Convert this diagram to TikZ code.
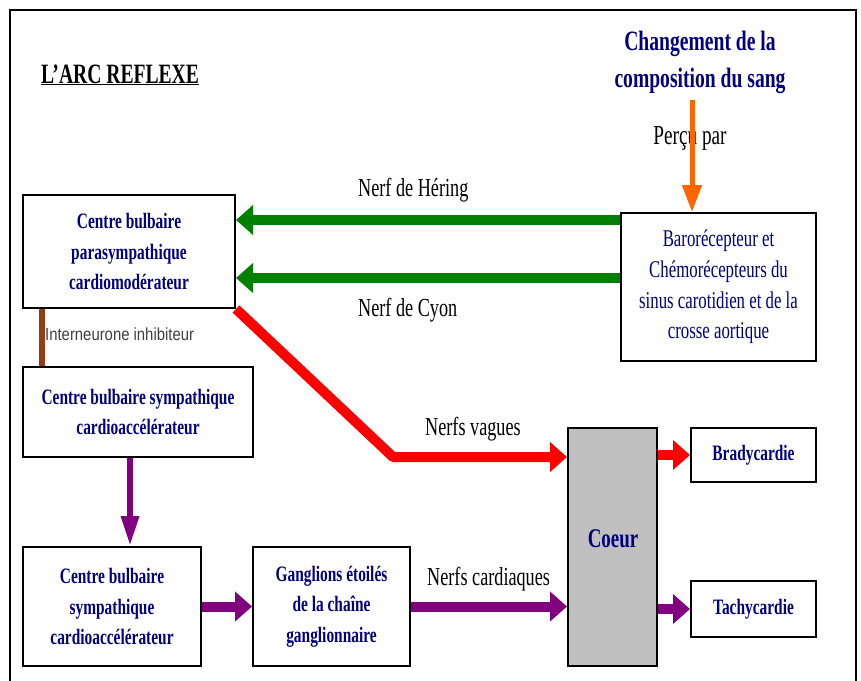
\documentclass[tikz,border=0pt]{standalone}
\usepackage{fontspec}
\setmainfont{Liberation Serif}[FakeStretch=0.7]
\newfontfamily\labsans{Liberation Sans}[FakeStretch=0.85]
\usetikzlibrary{arrows.meta}
\definecolor{navyc}{RGB}{0,0,128}
\definecolor{grn}{RGB}{0,128,0}
\definecolor{org}{RGB}{255,102,0}
\definecolor{purp}{RGB}{128,0,128}
\definecolor{brn}{RGB}{150,60,20}
\definecolor{heartgray}{RGB}{192,192,192}
\definecolor{redc}{RGB}{255,0,0}
\begin{document}
\begin{tikzpicture}[x=1pt,y=-1pt,
  box/.style={draw=black, line width=2pt, fill=white, inner sep=0pt, align=center,
    text=navyc, font=\bfseries\fontsize{22}{30.5}\selectfont},
  lab/.style={inner sep=0pt, font=\fontsize{26}{28}\selectfont},
  fat/.style={line width=10pt, -{Triangle[length=17pt,width=29pt]}},
  thinv/.style={line width=6pt, -{Triangle[length=30pt,width=17pt]}},
  orangearrow/.style={line width=5pt, draw=org, -{Triangle[length=27pt,width=19pt]}}
]
\useasboundingbox (0,0) rectangle (861,680);
\draw[line width=2.5pt] (10,684) -- (10,10) -- (856,10) -- (856,684);

% title
\node[anchor=base west, inner sep=0pt, font=\bfseries\fontsize{28}{30}\selectfont] (title) at (41,83) {\underline{L'ARC REFLEXE}};
\node[inner sep=0pt, align=center, text=navyc, font=\bfseries\fontsize{28}{37}\selectfont] (chg) at (700,62) {Changement de la\\composition du sang};

% boxes
\node[box, minimum width=212pt, minimum height=113pt] (A) at (129,251.5) {Centre bulbaire\\parasympathique\\cardiomodérateur};
\node[box, minimum width=230pt, minimum height=90pt] (B) at (138,412) {Centre bulbaire sympathique\\cardioaccélérateur};
\node[box, minimum width=178pt, minimum height=119pt] (C) at (112,606.5) {Centre bulbaire\\sympathique\\cardioaccélérateur};
\node[box, minimum width=157pt, minimum height=119pt] (D) at (331.5,606.5) {Ganglions étoilés\\de la chaîne\\ganglionnaire};
\node[box, fill=heartgray, minimum width=89pt, minimum height=238pt] (H) at (612.5,547) {};
\node[inner sep=0pt, text=navyc, font=\bfseries\fontsize{27}{30}\selectfont] (Htxt) at (613,539) {Coeur};
\node[box, minimum width=125pt, minimum height=54pt] (Br) at (753.5,455) {Bradycardie};
\node[box, minimum width=125pt, minimum height=56pt] (Ta) at (753.5,609) {Tachycardie};
\node[box, font=\fontsize{24}{30.7}\selectfont, minimum width=195pt, minimum height=148pt] (E) at (718.5,287) {Barorécepteur et\\Chémorécepteurs du\\sinus carotidien et de la\\crosse aortique};

% helper coordinates
\coordinate (h1) at (400,220);
\coordinate (h2) at (400,278);
\coordinate (top) at (692,100);
\coordinate (rv) at (393,457);
\coordinate (vx) at (130,0);
\coordinate (bx) at (42,0);

% labels
\node[lab, font=\fontsize{27.5}{30}\selectfont] (lper) at (690,138) {Perçu par};
\node[lab, anchor=west] (lher) at (358,190) {Nerf de Héring};
\node[lab, anchor=west] (lcyon) at (358,310) {Nerf de Cyon};
\node[lab, anchor=west] (lvag) at (425,429) {Nerfs vagues};
\node[lab, anchor=west] (lcar) at (427,579) {Nerfs cardiaques};
\node[inner sep=0pt, anchor=west, text=black!75, font=\labsans\fontsize{17.5}{19}\selectfont] (linter) at (45,334) {Interneurone inhibiteur};

% connectors
\draw[orangearrow] (top) -- (top |- E.north);
\draw[fat, draw=grn] (E.west |- h1) -- (A.east |- h1);
\draw[fat, draw=grn] (E.west |- h2) -- (A.east |- h2);
\draw[fat, draw=redc, line join=round] (A.south east) -- (rv) -- (H.west |- rv);
\draw[fat, draw=redc] (H.east |- Br.west) -- (Br.west);
\draw[line width=6pt, draw=brn] (bx |- A.south) -- (bx |- B.north);
\draw[thinv, draw=purp] (vx |- B.south) -- (vx |- C.north);
\draw[fat, draw=purp] (C.east) -- (D.west);
\draw[fat, draw=purp] (D.east) -- (H.west |- D.east);
\draw[fat, draw=purp] (H.east |- Ta.west) -- (Ta.west);
\end{tikzpicture}
\end{document}
